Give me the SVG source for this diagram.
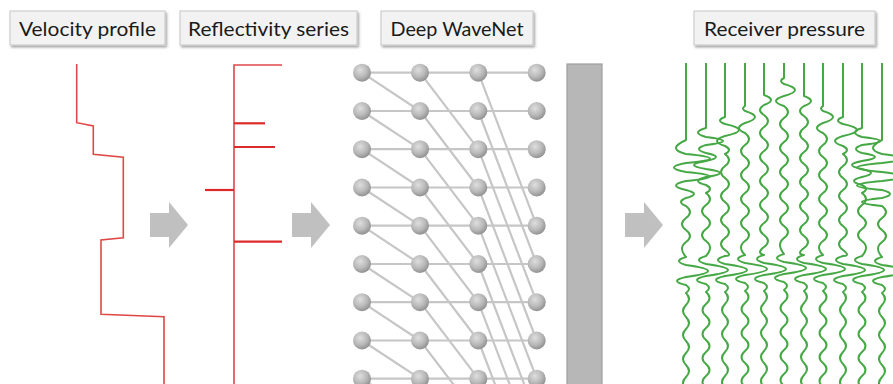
<svg xmlns="http://www.w3.org/2000/svg" xmlns:xlink="http://www.w3.org/1999/xlink" width="893" height="384" viewBox="0 0 893 384">
<defs>
<filter id="sh" x="-10%" y="-20%" width="125%" height="160%">
<feDropShadow dx="1.5" dy="2" stdDeviation="1.2" flood-color="#000" flood-opacity="0.35"/>
</filter>
<radialGradient id="ball" cx="40%" cy="35%" r="65%">
<stop offset="0" stop-color="#dedede"/>
<stop offset="0.6" stop-color="#b9b9b9"/>
<stop offset="1" stop-color="#929292"/>
</radialGradient>
<circle id="n" r="9" fill="url(#ball)"/>
</defs>
<style>
.lb{fill:#f2f2f2;stroke:#c6c6c6;stroke-width:1;filter:url(#sh)}
.lt{font-family:Lato,"Liberation Sans",sans-serif;font-size:20px;fill:#1a1a1a;text-anchor:middle}
.red{fill:none;stroke:#e04848;stroke-width:1.6}
.spk{fill:none;stroke:#dd2a2a;stroke-width:2.2}
.arr{fill:#c0c0c0}
.net{stroke:#c6c6c6;stroke-width:2.2;fill:none}
.tr{fill:none;stroke:#45a845;stroke-width:2;stroke-linejoin:round}
</style>
<rect width="893" height="384" fill="#fff"/>

<g id="label-velocity">
<rect class="lb" x="10" y="11" width="155" height="34"/>
<text class="lt" x="87.5" y="36" textLength="137" lengthAdjust="spacingAndGlyphs">Velocity profile</text>
</g>
<g id="label-reflectivity">
<rect class="lb" x="180" y="11" width="177" height="34"/>
<text class="lt" x="268.5" y="36" textLength="161" lengthAdjust="spacingAndGlyphs">Reflectivity series</text>
</g>
<g id="label-wavenet">
<rect class="lb" x="381" y="11" width="152" height="34"/>
<text class="lt" x="457" y="36" textLength="133" lengthAdjust="spacingAndGlyphs">Deep WaveNet</text>
</g>
<g id="label-receiver">
<rect class="lb" x="694" y="11" width="181" height="34"/>
<text class="lt" x="784.5" y="36" textLength="161" lengthAdjust="spacingAndGlyphs">Receiver pressure</text>
</g>

<g id="velocity-profile">
<polyline class="red" points="76.7,64 76.7,122.7 93.3,126 93.3,154.3 123.3,157.3 123.3,237.7 101,240 101,314.3 164,316.7 164,390"/>
</g>

<g id="reflectivity-series">
<polyline class="red" points="282,65 234,65 234,390" stroke-width="2"/>
<line class="spk" x1="234" y1="123.3" x2="265" y2="123.3"/>
<line class="spk" x1="234" y1="147" x2="275" y2="147"/>
<line class="spk" x1="234" y1="190" x2="205" y2="190"/>
<line class="spk" x1="234" y1="241.7" x2="282" y2="241.7"/>
</g>

<g id="connectors">
<polygon class="arr" points="150,213 169,213 169,202 188,225 169,248 169,237 150,237"/>
<polygon class="arr" points="292,213 311,213 311,202 330,225 311,248 311,237 292,237"/>
<polygon class="arr" points="625,213 644,213 644,202 663,225 644,248 644,237 625,237"/>
</g>

<g id="deep-wavenet">
<g class="net">
<path d="M362 72.7H537M362 111H537M362 149.2H537M362 187.5H537M362 225.7H537M362 264H537M362 302.2H537M362 340.5H537M362 378.7H537"/>
<path d="M362 72.7L420 111M362 111L420 149.2M362 149.2L420 187.5M362 187.5L420 225.7M362 225.7L420 264M362 264L420 302.2M362 302.2L420 340.5M362 340.5L420 378.7M362 378.7L420 417"/>
<path d="M420 72.7L478.3 149.2M420 111L478.3 187.5M420 149.2L478.3 225.7M420 187.5L478.3 264M420 225.7L478.3 302.2M420 264L478.3 340.5M420 302.2L478.3 378.7M420 340.5L478.3 417M420 378.7L478.3 455.2"/>
<path d="M478.3 72.7L536.7 225.7M478.3 111L536.7 264M478.3 149.2L536.7 302.2M478.3 187.5L536.7 340.5M478.3 225.7L536.7 378.7M478.3 264L536.7 417M478.3 302.2L536.7 455.2M478.3 340.5L536.7 493.5M478.3 378.7L536.7 531.7"/>
</g>
<g id="nodes-col0">
<use xlink:href="#n" x="362" y="72.7"/><use xlink:href="#n" x="362" y="111"/><use xlink:href="#n" x="362" y="149.2"/><use xlink:href="#n" x="362" y="187.5"/><use xlink:href="#n" x="362" y="225.7"/><use xlink:href="#n" x="362" y="264"/><use xlink:href="#n" x="362" y="302.2"/><use xlink:href="#n" x="362" y="340.5"/><use xlink:href="#n" x="362" y="378.7"/>
</g>
<g id="nodes-col1">
<use xlink:href="#n" x="420" y="72.7"/><use xlink:href="#n" x="420" y="111"/><use xlink:href="#n" x="420" y="149.2"/><use xlink:href="#n" x="420" y="187.5"/><use xlink:href="#n" x="420" y="225.7"/><use xlink:href="#n" x="420" y="264"/><use xlink:href="#n" x="420" y="302.2"/><use xlink:href="#n" x="420" y="340.5"/><use xlink:href="#n" x="420" y="378.7"/>
</g>
<g id="nodes-col2">
<use xlink:href="#n" x="478.3" y="72.7"/><use xlink:href="#n" x="478.3" y="111"/><use xlink:href="#n" x="478.3" y="149.2"/><use xlink:href="#n" x="478.3" y="187.5"/><use xlink:href="#n" x="478.3" y="225.7"/><use xlink:href="#n" x="478.3" y="264"/><use xlink:href="#n" x="478.3" y="302.2"/><use xlink:href="#n" x="478.3" y="340.5"/><use xlink:href="#n" x="478.3" y="378.7"/>
</g>
<g id="nodes-col3">
<use xlink:href="#n" x="536.7" y="72.7"/><use xlink:href="#n" x="536.7" y="111"/><use xlink:href="#n" x="536.7" y="149.2"/><use xlink:href="#n" x="536.7" y="187.5"/><use xlink:href="#n" x="536.7" y="225.7"/><use xlink:href="#n" x="536.7" y="264"/><use xlink:href="#n" x="536.7" y="302.2"/><use xlink:href="#n" x="536.7" y="340.5"/><use xlink:href="#n" x="536.7" y="378.7"/>
</g>
</g>

<g id="output-bar">
<rect x="567" y="64" width="35" height="330" fill="#b7b7b7" stroke="#9e9e9e" stroke-width="1.2"/>
</g>

<g id="receiver-pressure" class="tr">
<path d="M686 63V140q-20 9 0 14q48 4.5 0 9q-24 4.5 0 9q48 4.5 0 9q-20 4.5 0 9q16 4 0 8q-10 4 0 8q8 6 0 12t0 12t0 12t0 15q-14 4 0 8q44 6 0 12q-18 4 0 8q6 4 0 8q6 6 0 12t0 12t0 12t0 12t0 12t0 12t0 12t0 12t0 12"/>
<path d="M706 63V128q-16 4.5 0 9q34 4 0 8q-14 4 0 8q20 4 0 8q-24 4 0 8q28 4 0 8q-16 4 0 8q8 4 0 8q8 6 0 12t0 12t0 12t0 12t0 15q-14 4 0 8q44 6 0 12q-18 4 0 8q6 4 0 8q7 6 0 12t0 12t0 12t0 12t0 12t0 12t0 12t0 12t0 12"/>
<path d="M725 63V117q-10 3.5 0 7q28 6 0 12q-16 5 0 10q8 4 0 8q8 6 0 12t0 12t0 12t0 12t0 12t0 12t0 12t0 12t0 6q-14 4 0 8q44 6 0 12q-18 4 0 8q6 4 0 8q6 6 0 12t0 12t0 12t0 12t0 12t0 12t0 12t0 12t0 12"/>
<path d="M745 63V106q-4 2.5 0 5q20 6 0 12q-12 5 0 10q8 6 0 12t0 12t0 12t0 12t0 12t0 12t0 12t0 12t0 12t0 14q-14 4 0 8q44 6 0 12q-18 4 0 8q6 4 0 8q7 6 0 12t0 12t0 12t0 12t0 12t0 12t0 12t0 12t0 12"/>
<path d="M764 63V95q14 5 0 10q-8 5 0 10q8 6 0 12t0 12t0 12t0 12t0 12t0 12t0 12t0 12t0 12t0 12t0 12t0 8q-14 4 0 8q44 6 0 12q-18 4 0 8q6 4 0 8q6 6 0 12t0 12t0 12t0 12t0 12t0 12t0 12t0 12t0 12"/>
<path d="M784 63V78q-6 3 0 6q22 6 0 12q-16 5 0 10q8 6 0 12t0 12t0 12t0 12t0 12t0 12t0 12t0 12t0 12t0 12t0 12t0 16q-14 4 0 8q44 6 0 12q-18 4 0 8q6 4 0 8q7 6 0 12t0 12t0 12t0 12t0 12t0 12t0 12t0 12t0 12"/>
<path d="M804 63V96q14 5 0 10q-8 5 0 10q8 6 0 12t0 12t0 12t0 12t0 12t0 12t0 12t0 12t0 12t0 12t0 12t0 7q-14 4 0 8q44 6 0 12q-18 4 0 8q6 4 0 8q6 6 0 12t0 12t0 12t0 12t0 12t0 12t0 12t0 12t0 12"/>
<path d="M823 63V106q-4 2.5 0 5q20 6 0 12q-12 5 0 10q8 6 0 12t0 12t0 12t0 12t0 12t0 12t0 12t0 12t0 12t0 14q-14 4 0 8q44 6 0 12q-18 4 0 8q6 4 0 8q7 6 0 12t0 12t0 12t0 12t0 12t0 12t0 12t0 12t0 12"/>
<path d="M843 63V117q-10 3.5 0 7q28 6 0 12q-16 5 0 10q8 4 0 8q8 6 0 12t0 12t0 12t0 12t0 12t0 12t0 12t0 12t0 6q-14 4 0 8q44 6 0 12q-18 4 0 8q6 4 0 8q6 6 0 12t0 12t0 12t0 12t0 12t0 12t0 12t0 12t0 12"/>
<path d="M862 63V128q-14 4.5 0 9q36 4 0 8q-12 4 0 8q26 4 0 8q-20 4 0 8q18 4 0 8q-16 4 0 8q8 4 0 8q8 6 0 12t0 12t0 12t0 12t0 15q-14 4 0 8q44 6 0 12q-18 4 0 8q6 4 0 8q7 6 0 12t0 12t0 12t0 12t0 12t0 12t0 12t0 12t0 12"/>
<path d="M882 63V140q-18 9 0 14q40 4.5 0 9q-50 4.5 0 9q40 4.5 0 9q-50 4.5 0 9q16 4 0 8q-40 4 0 8q8 6 0 12t0 12t0 12t0 15q-14 4 0 8q44 6 0 12q-18 4 0 8q6 4 0 8q6 6 0 12t0 12t0 12t0 12t0 12t0 12t0 12t0 12t0 12"/>
</g>
</svg>
